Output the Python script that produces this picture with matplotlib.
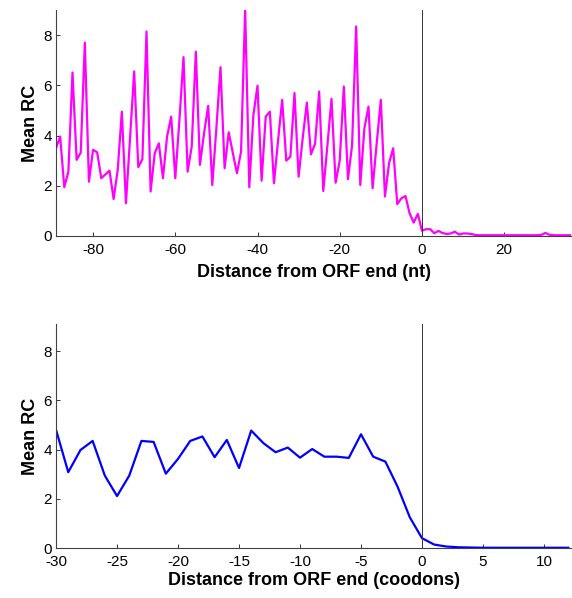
import matplotlib.pyplot as plt
import matplotlib as mpl

mpl.rcParams.update({
    "font.family": ["Liberation Sans", "DejaVu Sans"],
    "font.size": 11,
    "axes.unicode_minus": False,
    "axes.spines.top": False,
    "axes.spines.right": False,
    "xtick.direction": "in",
    "ytick.direction": "in",
})

# top panel: mean read count per nucleotide
nt_pos = list(range(-89, 37))
nt_rc = [
    3.5, 3.96, 1.94, 2.56, 6.51, 3.03, 3.32, 7.70, 2.16, 3.43,   # -89..-80
    3.33, 2.30, 2.45, 2.60, 1.47, 2.63, 4.95, 1.30, 3.9, 6.55,   # -79..-70
    2.74, 3.06, 8.14, 1.77, 3.29, 3.69, 2.30, 3.96, 4.75, 2.30,  # -69..-60
    4.6, 7.12, 2.56, 3.56, 7.34, 2.83, 4.09, 5.18, 2.03, 4.3,    # -59..-50
    6.72, 2.70, 4.13, 3.3, 2.50, 3.36, 9.03, 1.94, 4.82, 5.98,   # -49..-40
    2.20, 4.75, 4.95, 2.10, 3.8, 5.42, 3.00, 3.16, 5.69, 2.36,   # -39..-30
    3.9, 5.31, 3.25, 3.67, 5.75, 1.79, 3.6, 5.46, 2.12, 3.0,     # -29..-20
    5.95, 2.26, 3.6, 8.34, 2.03, 4.29, 5.15, 1.90, 3.7, 5.42,    # -19..-10
    1.57, 2.9, 3.49, 1.27, 1.50, 1.59, 0.90, 0.53, 0.88, 0.21,   # -9..0
    0.27, 0.27, 0.11, 0.20, 0.12, 0.08, 0.10, 0.17, 0.06, 0.10,  # 1..10
    0.10, 0.08, 0.04, 0.03, 0.03, 0.03, 0.03, 0.03, 0.03, 0.03,  # 11..20
    0.03, 0.03, 0.03, 0.03, 0.03, 0.03, 0.03, 0.03, 0.04, 0.12,  # 21..30
    0.05, 0.03, 0.03, 0.03, 0.03, 0.03,                          # 31..36
]

# bottom panel: mean read count per codon
cod_pos = list(range(-30, 13))
cod_rc = [
    4.80, 3.08, 3.98, 4.35, 2.94, 2.11, 2.94, 4.35, 4.31, 3.02,  # -30..-21
    3.62, 4.35, 4.53, 3.69, 4.39, 3.25, 4.77, 4.26, 3.89, 4.08,  # -20..-11
    3.67, 4.02, 3.71, 3.71, 3.66, 4.62, 3.71, 3.51, 2.49, 1.25,  # -10..-1
    0.40, 0.14, 0.06, 0.03, 0.02, 0.01, 0.01, 0.01, 0.01, 0.01,  # 0..9
    0.01, 0.01, 0.01,                                            # 10..12
]

fig = plt.figure(figsize=(5.72, 5.98), dpi=100)
ax1 = fig.add_axes([0.098, 0.6054, 0.902, 0.378])
ax2 = fig.add_axes([0.098, 0.0836, 0.902, 0.3746])

ax1.plot(nt_pos, nt_rc, color="#ff00ff", lw=1.6)
ax1.axvline(0, color="#333333", lw=0.7)
ax1.set_xlim(-89, 36.5)
ax1.set_ylim(0, 9)
ax1.set_xticks([-80, -60, -40, -20, 0, 20])
ax1.set_yticks([0, 2, 4, 6, 8])
ax1.set_xlabel("Distance from ORF end (nt)", fontweight="bold", fontsize=13, labelpad=5)
ax1.set_ylabel("Mean RC", fontweight="bold", fontsize=13, labelpad=3)

ax2.plot(cod_pos, cod_rc, color="#0000ff", lw=1.6)
ax2.axvline(0, color="#333333", lw=0.7)
ax2.set_xlim(-30, 12.3)
ax2.set_ylim(0, 9.1)
ax2.set_xticks([-30, -25, -20, -15, -10, -5, 0, 5, 10])
ax2.set_yticks([0, 2, 4, 6, 8])
ax2.set_xlabel("Distance from ORF end (coodons)", fontweight="bold", fontsize=13, labelpad=2)
ax2.set_ylabel("Mean RC", fontweight="bold", fontsize=13, labelpad=3)

for ax in (ax1, ax2):
    for s in ("left", "bottom"):
        ax.spines[s].set_color("#404040")
    ax.tick_params(axis="x", length=3, width=0.7, color="#333333", labelsize=11, pad=5)
    ax.tick_params(axis="y", length=3, width=0.7, color="#333333", labelsize=11, pad=3)

fig.savefig("out.png", dpi=100)
